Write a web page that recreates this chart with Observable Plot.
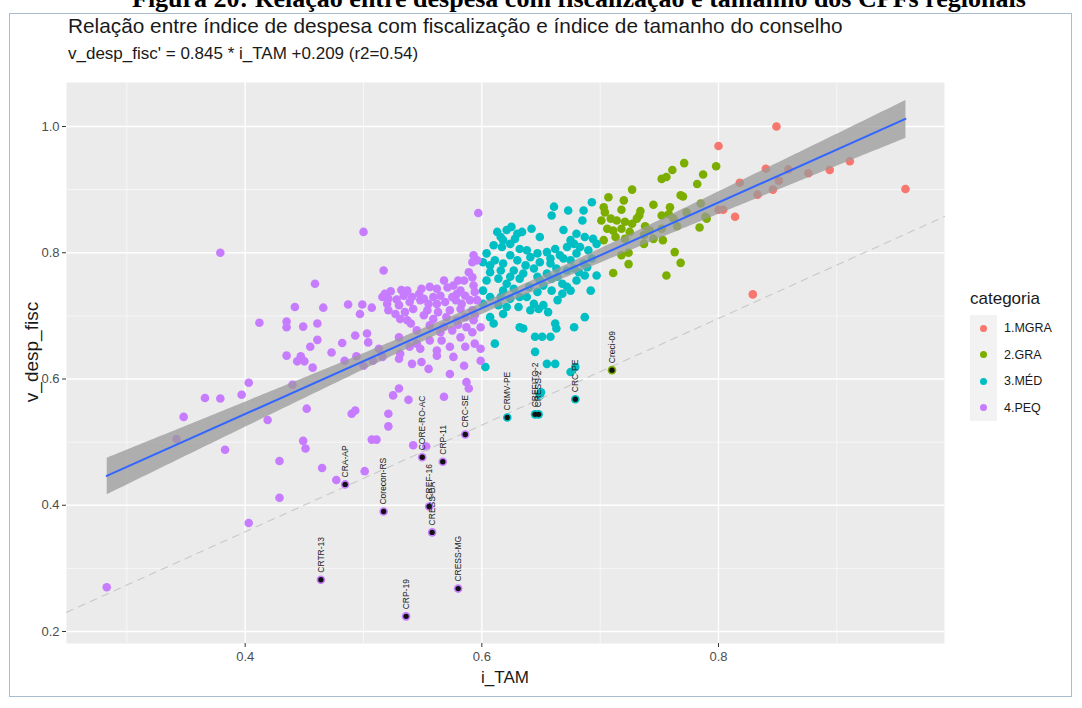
<!DOCTYPE html>
<html>
<head>
<meta charset="utf-8">
<script src="https://cdn.jsdelivr.net/npm/d3@7"></script>
<script src="https://cdn.jsdelivr.net/npm/@observablehq/plot@0.6"></script>
<style>
  body { margin:0; background:#fff; font-family:"Liberation Sans", Arial, sans-serif; }
  #wrap { position:relative; width:1082px; height:708px; overflow:hidden; }
  #frame { position:absolute; left:9px; top:13px; width:1063px; height:684px; border:1px solid #a9bccd; box-sizing:border-box; }
  #fig { position:absolute; left:132px; top:-14px; font-family:"Liberation Serif", serif; font-weight:bold; font-size:26px; line-height:26px; color:#000; white-space:nowrap; }
  #title { position:absolute; left:68px; top:14px; font-size:20.8px; color:#1a1a1a; white-space:nowrap; }
  #subtitle { position:absolute; left:68px; top:44px; font-size:17px; color:#1a1a1a; white-space:nowrap; }
  #xlab { position:absolute; left:0; width:1010px; text-align:center; top:668px; font-size:17px; color:#1a1a1a; }
  #ylab { position:absolute; left:32px; top:352px; font-size:19px; color:#1a1a1a; transform:translate(-50%,-50%) rotate(-90deg); white-space:nowrap; }
  #legend { position:absolute; left:970px; top:289px; color:#1a1a1a; }
  #legend .t { font-size:17px; margin-bottom:6px; }
  #legend .row { display:flex; align-items:center; height:26.5px; }
  #legend .key { width:27px; height:26.5px; background:#f2f2f2; display:flex; align-items:center; justify-content:center; }
  #legend .dot { width:7px; height:7px; border-radius:50%; }
  #legend .lab { font-size:12.5px; margin-left:7px; }
  #chart { position:absolute; left:0; top:0; }
</style>
</head>
<body>
<div id="wrap">
  <div id="fig">Figura 20: Relação entre despesa com fiscalização e tamanho dos CPFs regionais</div>
  <div id="frame"></div>
  <div id="chart"></div>
  <div id="title">Relação entre índice de despesa com fiscalização e índice de tamanho do conselho</div>
  <div id="subtitle">v_desp_fisc' = 0.845 * i_TAM +0.209 (r2=0.54)</div>
  <div id="xlab">i_TAM</div>
  <div id="ylab">v_desp_fisc</div>
  <div id="legend"></div>
</div>
<script>
// ---------- data ----------
const categories = ["1.MGRA", "2.GRA", "3.MÉD", "4.PEQ"];
const catColors = ["#F8766D", "#7CAE00", "#00BFC4", "#C77CFF"];

const xMajor = [0.4, 0.6, 0.8];
const xMinor = [0.3, 0.5, 0.7, 0.9];
const yMajor = [0.2, 0.4, 0.6, 0.8, 1.0];
const yMinor = [0.3, 0.5, 0.7, 0.9];

// dashed reference line (same slope as the fit, lower intercept)
const dashedSlope = 0.845;
const dashedIntercept = 0.02;

const mgra = [
  [0.849,1.000],[0.800,0.969],[0.911,0.945],[0.894,0.931],[0.876,0.926],[0.859,0.932],
  [0.840,0.933],[0.818,0.911],[0.851,0.914],[0.846,0.900],[0.833,0.892],[0.800,0.868],
  [0.804,0.868],[0.814,0.857],[0.958,0.901],[0.829,0.734]
];

const gra = [
  [0.771,0.942],[0.798,0.937],[0.761,0.931],[0.752,0.917],[0.756,0.920],[0.787,0.924],
  [0.782,0.909],[0.727,0.900],[0.707,0.888],[0.720,0.883],[0.703,0.872],[0.704,0.864],
  [0.718,0.868],[0.768,0.891],[0.770,0.889],[0.745,0.876],[0.759,0.872],[0.734,0.866],
  [0.733,0.859],[0.701,0.851],[0.709,0.854],[0.714,0.851],[0.721,0.849],[0.727,0.846],
  [0.731,0.854],[0.752,0.859],[0.758,0.861],[0.762,0.854],[0.773,0.864],[0.785,0.878],
  [0.706,0.838],[0.711,0.835],[0.718,0.838],[0.725,0.833],[0.738,0.842],[0.742,0.835],
  [0.752,0.838],[0.765,0.842],[0.789,0.857],[0.790,0.854],[0.713,0.825],[0.721,0.822],
  [0.737,0.828],[0.745,0.822],[0.784,0.840],[0.703,0.820],[0.737,0.814],[0.753,0.820],
  [0.718,0.796],[0.724,0.800],[0.724,0.782],[0.763,0.801],[0.768,0.784],[0.711,0.768],
  [0.756,0.764]
];

const med = [
  [0.661,0.873],[0.659,0.859],[0.673,0.867],[0.686,0.867],[0.693,0.880],[0.685,0.851],
  [0.613,0.833],[0.621,0.836],[0.625,0.841],[0.634,0.833],[0.642,0.838],[0.649,0.825],
  [0.628,0.822],[0.618,0.820],[0.669,0.836],[0.680,0.830],[0.687,0.825],[0.694,0.822],
  [0.675,0.820],[0.610,0.812],[0.617,0.809],[0.624,0.814],[0.632,0.806],[0.638,0.804],
  [0.647,0.799],[0.655,0.801],[0.662,0.806],[0.672,0.809],[0.678,0.814],[0.683,0.809],
  [0.690,0.804],[0.697,0.814],[0.604,0.799],[0.624,0.796],[0.641,0.793],[0.666,0.796],
  [0.680,0.799],[0.601,0.785],[0.611,0.788],[0.618,0.783],[0.630,0.788],[0.637,0.780],
  [0.649,0.785],[0.658,0.783],[0.663,0.775],[0.675,0.788],[0.686,0.783],[0.693,0.791],
  [0.672,0.772],[0.682,0.769],[0.607,0.769],[0.627,0.772],[0.644,0.775],[0.604,0.756],
  [0.614,0.759],[0.621,0.751],[0.632,0.759],[0.640,0.746],[0.652,0.748],[0.659,0.759],
  [0.668,0.751],[0.687,0.764],[0.697,0.764],[0.601,0.740],[0.618,0.740],[0.627,0.743],
  [0.647,0.762],[0.607,0.730],[0.624,0.727],[0.632,0.730],[0.647,0.738],[0.659,0.740],
  [0.668,0.735],[0.675,0.740],[0.601,0.719],[0.614,0.717],[0.631,0.714],[0.644,0.719],
  [0.652,0.717],[0.607,0.698],[0.618,0.703],[0.641,0.709],[0.656,0.706],[0.648,0.711],
  [0.687,0.698],[0.610,0.688],[0.632,0.682],[0.635,0.680],[0.662,0.688],[0.663,0.680],
  [0.678,0.682],[0.611,0.656],[0.645,0.667],[0.651,0.667],[0.658,0.667],[0.645,0.643],
  [0.603,0.619],[0.655,0.624],[0.662,0.624],[0.675,0.611],[0.679,0.619],[0.650,0.579],
  [0.649,0.574],[0.616,0.825],[0.630,0.830],[0.607,0.780],[0.616,0.772],[0.624,0.762],
  [0.635,0.767],[0.655,0.767],[0.664,0.762],[0.678,0.775],[0.689,0.777],[0.669,0.791],
  [0.658,0.791],[0.616,0.730],[0.638,0.730],[0.621,0.714],[0.664,0.725],[0.680,0.756],
  [0.692,0.740],[0.649,0.756],[0.672,0.746]
];

const peq = [
  [0.379,0.800],[0.459,0.751],[0.442,0.714],[0.466,0.713],[0.487,0.718],[0.412,0.689],
  [0.435,0.691],[0.435,0.682],[0.449,0.683],[0.461,0.688],[0.461,0.662],[0.455,0.651],
  [0.482,0.657],[0.493,0.669],[0.435,0.637],[0.447,0.636],[0.444,0.628],[0.450,0.628],
  [0.473,0.642],[0.457,0.618],[0.484,0.629],[0.494,0.636],[0.403,0.594],[0.440,0.591],
  [0.366,0.570],[0.379,0.569],[0.397,0.575],[0.348,0.540],[0.452,0.553],[0.419,0.535],
  [0.490,0.545],[0.493,0.550],[0.342,0.505],[0.449,0.502],[0.451,0.490],[0.383,0.488],
  [0.429,0.470],[0.465,0.459],[0.477,0.440],[0.429,0.412],[0.403,0.372],[0.283,0.270],
  [0.500,0.833],[0.597,0.863],[0.517,0.772],[0.593,0.796],[0.596,0.788],[0.592,0.785],
  [0.568,0.756],[0.580,0.756],[0.585,0.756],[0.576,0.748],[0.592,0.761],[0.589,0.769],
  [0.556,0.746],[0.549,0.743],[0.547,0.735],[0.537,0.740],[0.532,0.741],[0.523,0.739],
  [0.518,0.735],[0.562,0.743],[0.571,0.745],[0.593,0.748],[0.582,0.740],[0.516,0.730],
  [0.521,0.727],[0.528,0.726],[0.534,0.732],[0.541,0.730],[0.551,0.727],[0.559,0.730],
  [0.565,0.732],[0.575,0.730],[0.579,0.735],[0.586,0.732],[0.594,0.738],[0.499,0.718],
  [0.507,0.713],[0.520,0.719],[0.530,0.717],[0.539,0.722],[0.548,0.725],[0.555,0.719],
  [0.562,0.719],[0.569,0.722],[0.578,0.725],[0.583,0.719],[0.590,0.725],[0.596,0.725],
  [0.521,0.709],[0.527,0.703],[0.535,0.706],[0.542,0.711],[0.554,0.709],[0.563,0.706],
  [0.573,0.709],[0.582,0.711],[0.592,0.709],[0.497,0.703],[0.531,0.695],[0.537,0.693],
  [0.551,0.701],[0.559,0.695],[0.570,0.698],[0.579,0.693],[0.586,0.698],[0.594,0.701],
  [0.540,0.688],[0.556,0.685],[0.568,0.683],[0.580,0.686],[0.587,0.682],[0.593,0.693],
  [0.503,0.672],[0.530,0.666],[0.545,0.677],[0.565,0.674],[0.575,0.677],[0.592,0.674],
  [0.599,0.682],[0.504,0.658],[0.545,0.656],[0.556,0.661],[0.566,0.661],[0.582,0.666],
  [0.594,0.656],[0.513,0.648],[0.531,0.640],[0.539,0.651],[0.548,0.648],[0.562,0.645],
  [0.573,0.651],[0.586,0.651],[0.599,0.648],[0.500,0.621],[0.508,0.629],[0.516,0.635],
  [0.530,0.632],[0.541,0.624],[0.549,0.627],[0.562,0.637],[0.576,0.635],[0.599,0.629],
  [0.585,0.621],[0.555,0.616],[0.573,0.608],[0.587,0.595],[0.589,0.585],[0.530,0.585],
  [0.525,0.574],[0.538,0.567],[0.568,0.572],[0.521,0.545],[0.521,0.525],[0.507,0.504],
  [0.511,0.504],[0.542,0.495],[0.553,0.493],[0.501,0.454]
];

// labelled councils (drawn with a dark centre)
const outNames = ["CRTR-13","CRP-19","CRESS-MG","CRA-AP","Corecon-RS","CREF-16","CRESS-BA","CORE-RO-AC","CRP-11","CRC-SE","CRMV-PE","CREFITO-2","CRESS-2","CRC-PE","Creci-09"];
const outX = [0.464,0.536,0.580,0.4845,0.517,0.5555,0.558,0.5496,0.567,0.586,0.6215,0.645,0.648,0.679,0.710];
const outY = [0.282,0.224,0.268,0.433,0.390,0.398,0.357,0.476,0.469,0.512,0.539,0.544,0.544,0.568,0.614];
const outCat = ["4.PEQ","4.PEQ","4.PEQ","4.PEQ","4.PEQ","4.PEQ","4.PEQ","4.PEQ","4.PEQ","4.PEQ","3.MÉD","3.MÉD","3.MÉD","3.MÉD","2.GRA"];

// ---------- build tables ----------
const pts = [];
[[mgra,"1.MGRA"],[gra,"2.GRA"],[med,"3.MÉD"],[peq,"4.PEQ"]].forEach(([arr,c]) =>
  arr.forEach(([x,y]) => pts.push({x, y, cat:c})));
const outliers = outNames.map((n,i) => ({name:n, x:outX[i], y:outY[i], cat:outCat[i]}));
const all = pts.concat(outliers);

const xDomain = [0.249, 0.991];
const yDomain = [0.181, 1.0697];
const dashed = xDomain.map(x => ({x, y: dashedSlope*x + dashedIntercept}));

const chart = Plot.plot({
  width: 1082, height: 708,
  marginLeft: 66, marginRight: 138, marginTop: 82, marginBottom: 65,
  style: {fontFamily: "Liberation Sans, Arial, sans-serif", background: "transparent"},
  x: {domain: xDomain},
  y: {domain: yDomain},
  color: {domain: categories, range: catColors},
  marks: [
    Plot.frame({fill: "#EBEBEB", stroke: null}),
    Plot.gridX(xMinor, {stroke: "#fff", strokeOpacity: 1, strokeWidth: 0.6}),
    Plot.gridY(yMinor, {stroke: "#fff", strokeOpacity: 1, strokeWidth: 0.6}),
    Plot.gridX(xMajor, {stroke: "#fff", strokeOpacity: 1, strokeWidth: 1.3}),
    Plot.gridY(yMajor, {stroke: "#fff", strokeOpacity: 1, strokeWidth: 1.3}),
    Plot.axisX(xMajor, {tickSize: 4, tickPadding: 4, tickFormat: d3.format(".1f"), fontSize: 13, fill: "#4d4d4d", stroke: "#333", label: null}),
    Plot.axisY(yMajor, {tickSize: 4, tickPadding: 3, tickFormat: d3.format(".1f"), fontSize: 13, fill: "#4d4d4d", stroke: "#333", label: null}),
    Plot.dot(pts, {x: "x", y: "y", fill: "cat", r: 4.3, stroke: null}),
    Plot.linearRegressionY(all, {x: "x", y: "y", stroke: "#3366FF", strokeWidth: 2, fill: "#999", fillOpacity: 0.75}),
    Plot.line(dashed, {x: "x", y: "y", stroke: "#c8c8c8", strokeWidth: 1.1, strokeDasharray: "7,6"}),
    Plot.dot(outliers, {x: "x", y: "y", fill: "cat", r: 4.3, stroke: null}),
    Plot.dot(outliers, {x: "x", y: "y", fill: "#111", r: 2.7, stroke: null}),
    Plot.text(outliers, {x: "x", y: "y", text: "name", rotate: -90, textAnchor: "start", lineAnchor: "middle", dy: -7, fontSize: 8.5, fill: "#222"})
  ]
});
document.getElementById("chart").appendChild(chart);

// legend
const lg = document.getElementById("legend");
lg.innerHTML = '<div class="t">categoria</div>' + categories.map((c,i) =>
  `<div class="row"><div class="key"><div class="dot" style="background:${catColors[i]}"></div></div><div class="lab">${c}</div></div>`).join("");
</script>
</body>
</html>
